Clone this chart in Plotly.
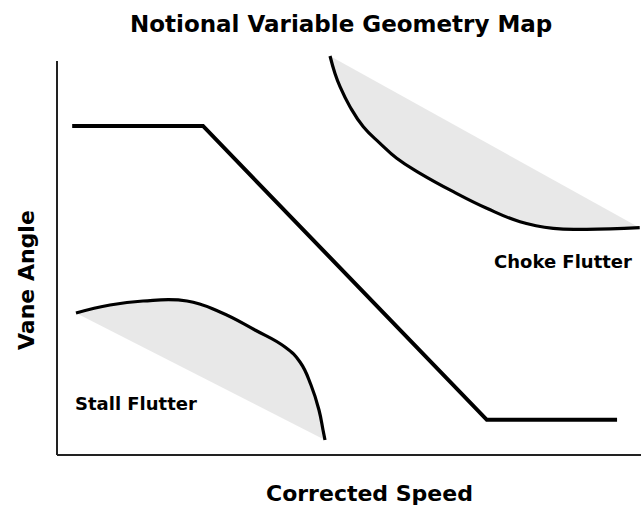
import plotly.graph_objects as go

# Operating schedule (x: corrected speed, y: vane angle; arbitrary units)
schedule_x = [2.6, 25.0, 73.6, 95.9]
schedule_y = [83.3, 83.3, 8.9, 8.9]

# Stall flutter boundary
stall_x = [3.25, 9.08, 14.73, 22.26, 27.91, 33.90, 39.04, 41.61, 43.49, 44.86, 45.55, 45.89]
stall_y = [35.95, 37.97, 38.99, 38.99, 36.20, 31.65, 27.34, 23.54, 17.72, 11.39, 6.33, 3.80]

# Choke flutter boundary
choke_x = [46.75, 47.6, 48.46, 50.17, 52.45, 55.31, 58.17, 62.16, 67.86, 73.58,
           79.28, 84.98, 90.70, 99.78]
choke_y = [101.01, 96.6, 93.24, 88.18, 83.11, 78.91, 75.11, 71.32, 66.66, 62.46,
           59.06, 57.39, 57.14, 57.54]

labels = ["Stall Flutter", "Choke Flutter"]
label_x = [13.5, 86.6]
label_y = [13.0, 49.1]

W, H = 641, 508
L, R, T, B = 57, 0, 48, 53
PW, PH = W - L - R, H - T - B
FONT = "DejaVu Sans"

fig = go.Figure()

pattern = dict(shape="-", size=2, solidity=0.5, fgcolor="#b4b4b4", bgcolor="#fafafa")

for xs, ys in [(stall_x, stall_y), (choke_x, choke_y)]:
    # hatched region closed by a straight chord
    fig.add_trace(go.Scatter(
        x=xs + [xs[0]], y=ys + [ys[0]], mode="lines", fill="toself",
        fillpattern=pattern, line=dict(width=0, color="rgba(0,0,0,0)"),
        hoverinfo="skip", showlegend=False))
    fig.add_trace(go.Scatter(
        x=xs, y=ys, mode="lines", line=dict(color="black", width=3.2, shape="spline", smoothing=1.3),
        hoverinfo="skip", showlegend=False))

fig.add_trace(go.Scatter(
    x=schedule_x, y=schedule_y, mode="lines",
    line=dict(color="black", width=4), hoverinfo="skip", showlegend=False))

for t, x, y in zip(labels, label_x, label_y):
    fig.add_annotation(x=x, y=y, xref="x", yref="y", text=f"<b>{t}</b>", showarrow=False,
                       font=dict(family=FONT, size=18, color="black"),
                       xanchor="center", yanchor="middle")

def px(xp):
    return (xp - L) / PW

def py(yp):
    return (H - B - yp) / PH

# title and axis titles
fig.add_annotation(x=px(341), y=py(24), xref="paper", yref="paper",
                   text="<b>Notional Variable Geometry Map</b>", showarrow=False,
                   font=dict(family=FONT, size=23, color="black"),
                   xanchor="center", yanchor="middle")
fig.add_annotation(x=px(369), y=py(493), xref="paper", yref="paper",
                   text="<b>Corrected Speed</b>", showarrow=False,
                   font=dict(family=FONT, size=22, color="black"),
                   xanchor="center", yanchor="middle")
fig.add_annotation(x=px(26), y=py(280), xref="paper", yref="paper",
                   text="<b>Vane Angle</b>", showarrow=False, textangle=-90,
                   font=dict(family=FONT, size=22, color="black"),
                   xanchor="center", yanchor="middle")

# axis lines
fig.add_shape(type="line", xref="paper", yref="paper", x0=0, x1=0, y0=0, y1=py(61),
              line=dict(color="#222", width=2))
fig.add_shape(type="line", xref="paper", yref="paper", x0=0, x1=1, y0=0, y1=0,
              line=dict(color="#222", width=2))

fig.update_xaxes(range=[0, 100], visible=False, showgrid=False, zeroline=False)
fig.update_yaxes(range=[0, PH / 3.95], visible=False, showgrid=False, zeroline=False)

fig.update_layout(width=W, height=H, margin=dict(l=L, r=R, t=T, b=B),
                  plot_bgcolor="white", paper_bgcolor="white")

fig.write_html("out.html", config={"displayModeBar": False},
               post_script="document.body.style.margin='0';document.body.style.overflow='hidden';")
